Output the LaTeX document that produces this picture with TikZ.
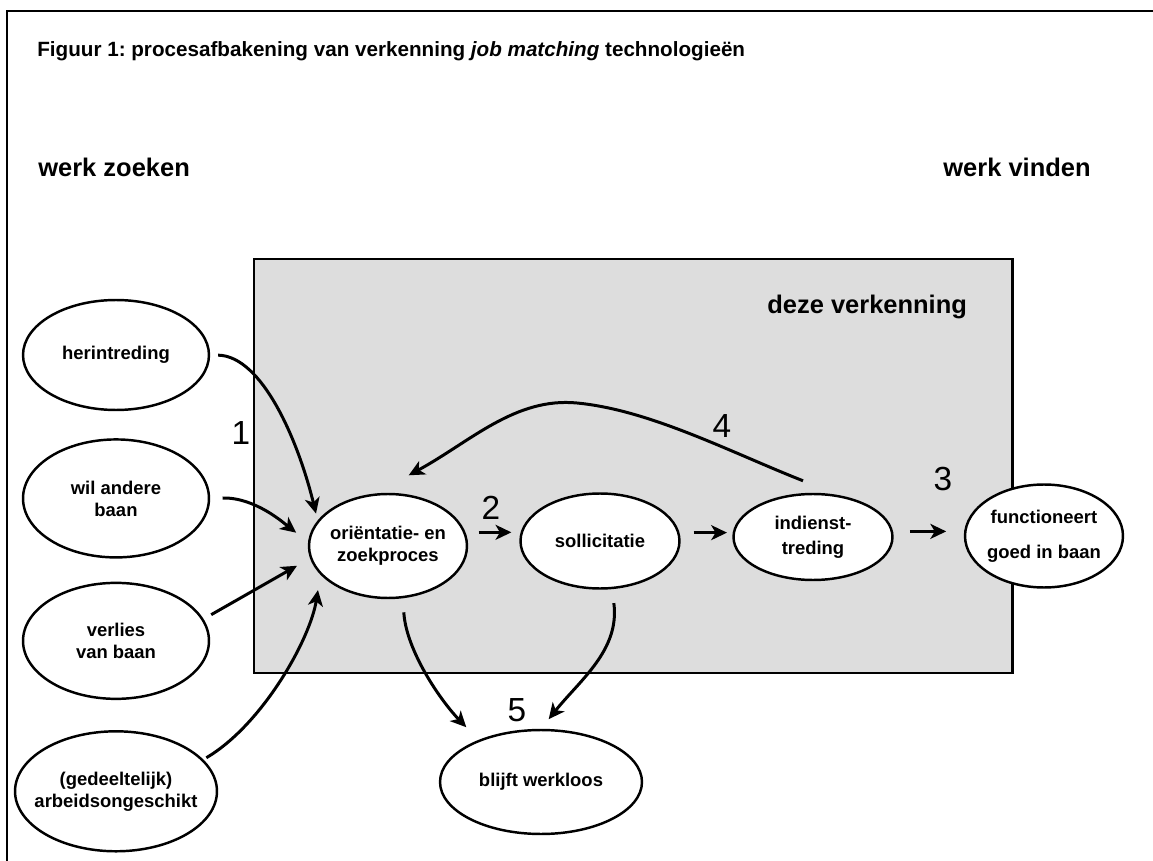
\documentclass[tikz,border=0pt]{standalone}
\usepackage{fontspec}
\setmainfont{Liberation Sans}
\usetikzlibrary{arrows.meta, positioning, shapes.geometric}

\definecolor{zonegray}{HTML}{DDDDDD}

\tikzset{
  stage/.style={ellipse, draw, fill=white, line width=1.4pt, inner xsep=-7pt, inner ysep=0pt,
    align=center, font=\fontsize{10.5}{12.5}\selectfont\bfseries},
  flow/.style={line width=1.7pt, -{Stealth[length=9pt, width=8.5pt, inset=2.5pt]}},
  nr/.style={font=\fontsize{19}{19}\selectfont, inner sep=0pt},
  head/.style={font=\fontsize{14.5}{16}\selectfont\bfseries, inner sep=0pt},
}

\begin{document}
\begin{tikzpicture}[x=0.02cm, y=-0.02cm]
  \useasboundingbox (0,0) rectangle (1153,861);

  % frame, title and the two ends of the process
  \draw[line width=1.1pt] (7,861) -- (7,11) -- (1153,11);
  \node[font=\fontsize{11.75}{14}\selectfont\bfseries\frenchspacing, inner sep=0pt, anchor=base west] (title) at (37,57)
    {Figuur 1: procesafbakening van verkenning \textit{job matching} technologieën};
  \node[head, anchor=base west] (zoeken) at (38,177) {werk zoeken};
  \node[head, anchor=base east] (vinden) at (1091,177) {werk vinden};

  % grey zone
  \draw[line width=1.7pt, fill=zonegray] (254,259) rectangle (1012,673);
  \node[head, anchor=base west] (zone) at (767,314) {deze verkenning};

  % starting points
  \node[stage, minimum width=3.72cm, minimum height=2.2cm] (herin) at (116,355) {herintreding};
  \node[stage, minimum width=3.72cm, minimum height=2.36cm, below=0.54cm of herin] (wil) {wil andere\\baan};
  \node[stage, minimum width=3.72cm, minimum height=2.32cm, below=0.46cm of wil] (verlies) {verlies\\van baan};
  \node[stage, minimum width=4.04cm, minimum height=2.4cm, below=0.6cm of verlies] (ged) {(gedeeltelijk)\\arbeidsongeschikt};

  % the process itself
  \node[stage, minimum width=3.16cm, minimum height=2.08cm] (orient) at (388,546) {oriëntatie- en\\zoekproces};
  \node[stage, minimum width=3.18cm, minimum height=1.9cm] (sollic) at (600,541) {sollicitatie};
  \node[stage, minimum width=3.18cm, minimum height=1.72cm] (indienst) at (813,537) {indienst-\\[1.5pt]treding};
  \node[stage, minimum width=3.16cm, minimum height=2.06cm] (funct) at (1044,536) {functioneert\\[7.5pt]goed in baan};
  \node[stage, minimum width=4.04cm, minimum height=2.08cm] (blijft) at (541,782) {blijft werkloos};

  % into the search
  \draw[flow, shorten <=4.5pt, shorten >=4pt] (herin.east) .. controls (262,356) and (298,440) .. (orient.160);
  \draw[flow, shorten <=7pt, shorten >=8.5pt] (wil.east) .. controls (255,497) and (285,524) .. (orient.177);
  \draw[flow, shorten <=5pt, shorten >=8.5pt] (verlies.14) -- (orient.189);
  \draw[flow, shorten <=2pt, shorten >=8.9pt] (ged.20) .. controls (262,725) and (310,640) .. (orient.203);

  % main line
  \draw[flow, shorten <=7.4pt, shorten >=4.5pt] (orient.10) -- (orient.10 -| sollic.west);
  \draw[flow, shorten <=8pt, shorten >=3pt] (sollic.6) -- (sollic.6 -| indienst.west);
  \draw[flow, shorten <=9.6pt, shorten >=10pt] (indienst.4) -- (indienst.4 -| funct.west);

  % back to searching
  \draw[flow] ([shift={(-10,-12)}]indienst.north) .. controls (730,452) and (650,410) .. (577,403)
    .. controls (515,397) and (470,442) .. ([shift={(-8,-21)}]orient.60);

  % no job
  \draw[flow, shorten <=8pt, shorten >=10pt] (orient.-74) .. controls (406,650) and (440,700) .. (blijft.146);
  \draw[flow, shorten <=8pt, shorten >=7pt] (sollic.-76) .. controls (620,650) and (580,680) .. (blijft.90);

  % numbers
  \node[nr] (n1) at (241,433) {1};
  \node[nr] (n2) at (491,508) {2};
  \node[nr] (n3) at (943,479) {3};
  \node[nr] (n4) at (722,426) {4};
  \node[nr] (n5) at (517,710) {5};
\end{tikzpicture}
\end{document}
